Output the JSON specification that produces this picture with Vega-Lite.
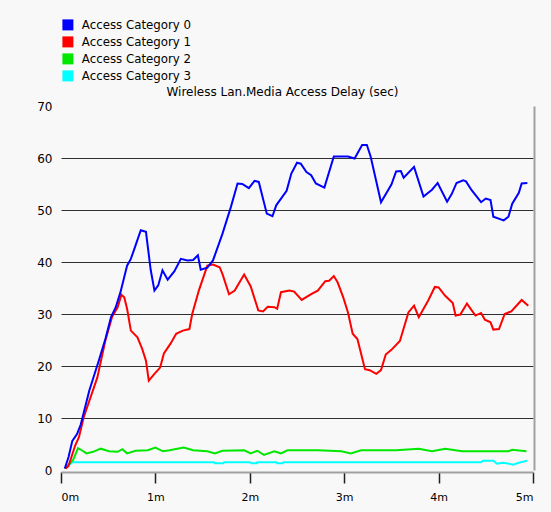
{
  "$schema": "https://vega.github.io/schema/vega-lite/v6.json",
  "width": 472,
  "height": 364,
  "autosize": {"type": "none"},
  "padding": {"left": 61, "top": 106, "right": 18, "bottom": 42},
  "background": "#f8f8f8",
  "config": {"view": {"stroke": null}, "font": "DejaVu Sans"},
  "data": {"values": [
    {"series": "Access Category 3", "time": 0.04, "delay": 0.3},
    {"series": "Access Category 3", "time": 0.12, "delay": 1.5},
    {"series": "Access Category 3", "time": 1.62, "delay": 1.5},
    {"series": "Access Category 3", "time": 1.63, "delay": 1.3},
    {"series": "Access Category 3", "time": 1.72, "delay": 1.3},
    {"series": "Access Category 3", "time": 1.73, "delay": 1.5},
    {"series": "Access Category 3", "time": 2.0, "delay": 1.5},
    {"series": "Access Category 3", "time": 2.02, "delay": 1.3},
    {"series": "Access Category 3", "time": 2.07, "delay": 1.3},
    {"series": "Access Category 3", "time": 2.08, "delay": 1.5},
    {"series": "Access Category 3", "time": 2.28, "delay": 1.5},
    {"series": "Access Category 3", "time": 2.29, "delay": 1.3},
    {"series": "Access Category 3", "time": 2.35, "delay": 1.3},
    {"series": "Access Category 3", "time": 2.36, "delay": 1.5},
    {"series": "Access Category 3", "time": 4.45, "delay": 1.5},
    {"series": "Access Category 3", "time": 4.47, "delay": 1.8},
    {"series": "Access Category 3", "time": 4.58, "delay": 1.8},
    {"series": "Access Category 3", "time": 4.62, "delay": 1.2},
    {"series": "Access Category 3", "time": 4.68, "delay": 1.4},
    {"series": "Access Category 3", "time": 4.72, "delay": 1.3},
    {"series": "Access Category 3", "time": 4.79, "delay": 1.0},
    {"series": "Access Category 3", "time": 4.85, "delay": 1.4},
    {"series": "Access Category 3", "time": 4.94, "delay": 1.8},

    {"series": "Access Category 2", "time": 0.04, "delay": 0.3},
    {"series": "Access Category 2", "time": 0.13, "delay": 2.0},
    {"series": "Access Category 2", "time": 0.18, "delay": 4.2},
    {"series": "Access Category 2", "time": 0.22, "delay": 3.8},
    {"series": "Access Category 2", "time": 0.27, "delay": 3.2},
    {"series": "Access Category 2", "time": 0.34, "delay": 3.5},
    {"series": "Access Category 2", "time": 0.42, "delay": 4.1},
    {"series": "Access Category 2", "time": 0.51, "delay": 3.6},
    {"series": "Access Category 2", "time": 0.6, "delay": 3.5},
    {"series": "Access Category 2", "time": 0.65, "delay": 4.0},
    {"series": "Access Category 2", "time": 0.7, "delay": 3.2},
    {"series": "Access Category 2", "time": 0.79, "delay": 3.7},
    {"series": "Access Category 2", "time": 0.92, "delay": 3.8},
    {"series": "Access Category 2", "time": 1.0, "delay": 4.3},
    {"series": "Access Category 2", "time": 1.08, "delay": 3.6},
    {"series": "Access Category 2", "time": 1.15, "delay": 3.8},
    {"series": "Access Category 2", "time": 1.3, "delay": 4.3},
    {"series": "Access Category 2", "time": 1.4, "delay": 3.8},
    {"series": "Access Category 2", "time": 1.55, "delay": 3.6},
    {"series": "Access Category 2", "time": 1.63, "delay": 3.2},
    {"series": "Access Category 2", "time": 1.71, "delay": 3.7},
    {"series": "Access Category 2", "time": 1.94, "delay": 3.8},
    {"series": "Access Category 2", "time": 2.01, "delay": 3.2},
    {"series": "Access Category 2", "time": 2.08, "delay": 3.7},
    {"series": "Access Category 2", "time": 2.15, "delay": 2.9},
    {"series": "Access Category 2", "time": 2.26, "delay": 3.6},
    {"series": "Access Category 2", "time": 2.33, "delay": 3.2},
    {"series": "Access Category 2", "time": 2.4, "delay": 3.8},
    {"series": "Access Category 2", "time": 2.72, "delay": 3.8},
    {"series": "Access Category 2", "time": 2.97, "delay": 3.6},
    {"series": "Access Category 2", "time": 3.07, "delay": 3.2},
    {"series": "Access Category 2", "time": 3.18, "delay": 3.8},
    {"series": "Access Category 2", "time": 3.55, "delay": 3.8},
    {"series": "Access Category 2", "time": 3.79, "delay": 4.1},
    {"series": "Access Category 2", "time": 3.93, "delay": 3.6},
    {"series": "Access Category 2", "time": 4.07, "delay": 4.1},
    {"series": "Access Category 2", "time": 4.25, "delay": 3.6},
    {"series": "Access Category 2", "time": 4.74, "delay": 3.6},
    {"series": "Access Category 2", "time": 4.78, "delay": 3.9},
    {"series": "Access Category 2", "time": 4.93, "delay": 3.6},

    {"series": "Access Category 1", "time": 0.05, "delay": 0.3},
    {"series": "Access Category 1", "time": 0.08, "delay": 0.8},
    {"series": "Access Category 1", "time": 0.15, "delay": 4.7},
    {"series": "Access Category 1", "time": 0.19, "delay": 6.3},
    {"series": "Access Category 1", "time": 0.24, "delay": 10.1},
    {"series": "Access Category 1", "time": 0.385, "delay": 17.8},
    {"series": "Access Category 1", "time": 0.47, "delay": 24.9},
    {"series": "Access Category 1", "time": 0.54, "delay": 29.4},
    {"series": "Access Category 1", "time": 0.6, "delay": 31.3},
    {"series": "Access Category 1", "time": 0.64, "delay": 33.7},
    {"series": "Access Category 1", "time": 0.67, "delay": 33.2},
    {"series": "Access Category 1", "time": 0.7, "delay": 31.0},
    {"series": "Access Category 1", "time": 0.74, "delay": 26.8},
    {"series": "Access Category 1", "time": 0.81, "delay": 25.5},
    {"series": "Access Category 1", "time": 0.86, "delay": 23.3},
    {"series": "Access Category 1", "time": 0.9, "delay": 21.0},
    {"series": "Access Category 1", "time": 0.93, "delay": 17.2},
    {"series": "Access Category 1", "time": 0.99, "delay": 18.5},
    {"series": "Access Category 1", "time": 1.05, "delay": 19.7},
    {"series": "Access Category 1", "time": 1.09, "delay": 22.4},
    {"series": "Access Category 1", "time": 1.16, "delay": 24.3},
    {"series": "Access Category 1", "time": 1.22, "delay": 26.2},
    {"series": "Access Category 1", "time": 1.29, "delay": 26.8},
    {"series": "Access Category 1", "time": 1.36, "delay": 27.1},
    {"series": "Access Category 1", "time": 1.39, "delay": 30.0},
    {"series": "Access Category 1", "time": 1.46, "delay": 34.5},
    {"series": "Access Category 1", "time": 1.55, "delay": 39.3},
    {"series": "Access Category 1", "time": 1.61, "delay": 39.5},
    {"series": "Access Category 1", "time": 1.68, "delay": 39.0},
    {"series": "Access Category 1", "time": 1.71, "delay": 37.7},
    {"series": "Access Category 1", "time": 1.78, "delay": 33.8},
    {"series": "Access Category 1", "time": 1.84, "delay": 34.5},
    {"series": "Access Category 1", "time": 1.94, "delay": 37.6},
    {"series": "Access Category 1", "time": 2.01, "delay": 35.3},
    {"series": "Access Category 1", "time": 2.09, "delay": 30.7},
    {"series": "Access Category 1", "time": 2.14, "delay": 30.5},
    {"series": "Access Category 1", "time": 2.19, "delay": 31.4},
    {"series": "Access Category 1", "time": 2.26, "delay": 31.3},
    {"series": "Access Category 1", "time": 2.29, "delay": 31.0},
    {"series": "Access Category 1", "time": 2.33, "delay": 34.2},
    {"series": "Access Category 1", "time": 2.42, "delay": 34.5},
    {"series": "Access Category 1", "time": 2.47, "delay": 34.3},
    {"series": "Access Category 1", "time": 2.55, "delay": 32.7},
    {"series": "Access Category 1", "time": 2.65, "delay": 33.8},
    {"series": "Access Category 1", "time": 2.72, "delay": 34.5},
    {"series": "Access Category 1", "time": 2.8, "delay": 36.3},
    {"series": "Access Category 1", "time": 2.84, "delay": 36.4},
    {"series": "Access Category 1", "time": 2.89, "delay": 37.3},
    {"series": "Access Category 1", "time": 2.93, "delay": 36.1},
    {"series": "Access Category 1", "time": 2.99, "delay": 33.2},
    {"series": "Access Category 1", "time": 3.04, "delay": 30.3},
    {"series": "Access Category 1", "time": 3.09, "delay": 26.2},
    {"series": "Access Category 1", "time": 3.14, "delay": 25.2},
    {"series": "Access Category 1", "time": 3.22, "delay": 19.4},
    {"series": "Access Category 1", "time": 3.27, "delay": 19.2},
    {"series": "Access Category 1", "time": 3.34, "delay": 18.5},
    {"series": "Access Category 1", "time": 3.39, "delay": 19.2},
    {"series": "Access Category 1", "time": 3.44, "delay": 22.2},
    {"series": "Access Category 1", "time": 3.5, "delay": 23.1},
    {"series": "Access Category 1", "time": 3.59, "delay": 24.8},
    {"series": "Access Category 1", "time": 3.68, "delay": 30.3},
    {"series": "Access Category 1", "time": 3.74, "delay": 31.6},
    {"series": "Access Category 1", "time": 3.79, "delay": 29.4},
    {"series": "Access Category 1", "time": 3.89, "delay": 32.6},
    {"series": "Access Category 1", "time": 3.96, "delay": 35.2},
    {"series": "Access Category 1", "time": 4.0, "delay": 35.1},
    {"series": "Access Category 1", "time": 4.07, "delay": 33.5},
    {"series": "Access Category 1", "time": 4.15, "delay": 32.1},
    {"series": "Access Category 1", "time": 4.18, "delay": 29.7},
    {"series": "Access Category 1", "time": 4.23, "delay": 29.9},
    {"series": "Access Category 1", "time": 4.3, "delay": 32.0},
    {"series": "Access Category 1", "time": 4.39, "delay": 29.7},
    {"series": "Access Category 1", "time": 4.45, "delay": 30.2},
    {"series": "Access Category 1", "time": 4.49, "delay": 28.9},
    {"series": "Access Category 1", "time": 4.55, "delay": 28.4},
    {"series": "Access Category 1", "time": 4.58, "delay": 27.0},
    {"series": "Access Category 1", "time": 4.64, "delay": 27.1},
    {"series": "Access Category 1", "time": 4.7, "delay": 30.0},
    {"series": "Access Category 1", "time": 4.77, "delay": 30.5},
    {"series": "Access Category 1", "time": 4.88, "delay": 32.7},
    {"series": "Access Category 1", "time": 4.95, "delay": 31.6},

    {"series": "Access Category 0", "time": 0.04, "delay": 0.3},
    {"series": "Access Category 0", "time": 0.08, "delay": 2.5},
    {"series": "Access Category 0", "time": 0.12, "delay": 5.6},
    {"series": "Access Category 0", "time": 0.17, "delay": 6.9},
    {"series": "Access Category 0", "time": 0.21, "delay": 8.8},
    {"series": "Access Category 0", "time": 0.3, "delay": 15.3},
    {"series": "Access Category 0", "time": 0.4, "delay": 21.0},
    {"series": "Access Category 0", "time": 0.47, "delay": 25.2},
    {"series": "Access Category 0", "time": 0.53, "delay": 29.4},
    {"series": "Access Category 0", "time": 0.58, "delay": 31.3},
    {"series": "Access Category 0", "time": 0.63, "delay": 34.2},
    {"series": "Access Category 0", "time": 0.67, "delay": 37.1},
    {"series": "Access Category 0", "time": 0.7, "delay": 39.3},
    {"series": "Access Category 0", "time": 0.74, "delay": 40.6},
    {"series": "Access Category 0", "time": 0.79, "delay": 43.2},
    {"series": "Access Category 0", "time": 0.845, "delay": 46.1},
    {"series": "Access Category 0", "time": 0.9, "delay": 45.8},
    {"series": "Access Category 0", "time": 0.95, "delay": 38.5},
    {"series": "Access Category 0", "time": 0.99, "delay": 34.5},
    {"series": "Access Category 0", "time": 1.03, "delay": 35.5},
    {"series": "Access Category 0", "time": 1.075, "delay": 38.4},
    {"series": "Access Category 0", "time": 1.13, "delay": 36.6},
    {"series": "Access Category 0", "time": 1.2, "delay": 38.2},
    {"series": "Access Category 0", "time": 1.27, "delay": 40.6},
    {"series": "Access Category 0", "time": 1.34, "delay": 40.3},
    {"series": "Access Category 0", "time": 1.4, "delay": 40.4},
    {"series": "Access Category 0", "time": 1.45, "delay": 41.3},
    {"series": "Access Category 0", "time": 1.48, "delay": 38.5},
    {"series": "Access Category 0", "time": 1.55, "delay": 38.9},
    {"series": "Access Category 0", "time": 1.61, "delay": 40.3},
    {"series": "Access Category 0", "time": 1.71, "delay": 45.4},
    {"series": "Access Category 0", "time": 1.8, "delay": 50.6},
    {"series": "Access Category 0", "time": 1.87, "delay": 55.1},
    {"series": "Access Category 0", "time": 1.92, "delay": 55.0},
    {"series": "Access Category 0", "time": 1.99, "delay": 54.2},
    {"series": "Access Category 0", "time": 2.05, "delay": 55.6},
    {"series": "Access Category 0", "time": 2.095, "delay": 55.4},
    {"series": "Access Category 0", "time": 2.18, "delay": 49.3},
    {"series": "Access Category 0", "time": 2.24, "delay": 48.8},
    {"series": "Access Category 0", "time": 2.28, "delay": 50.9},
    {"series": "Access Category 0", "time": 2.39, "delay": 53.7},
    {"series": "Access Category 0", "time": 2.44, "delay": 57.0},
    {"series": "Access Category 0", "time": 2.5, "delay": 59.1},
    {"series": "Access Category 0", "time": 2.54, "delay": 58.9},
    {"series": "Access Category 0", "time": 2.6, "delay": 57.3},
    {"series": "Access Category 0", "time": 2.65, "delay": 56.7},
    {"series": "Access Category 0", "time": 2.7, "delay": 55.1},
    {"series": "Access Category 0", "time": 2.79, "delay": 54.3},
    {"series": "Access Category 0", "time": 2.89, "delay": 60.3},
    {"series": "Access Category 0", "time": 3.04, "delay": 60.3},
    {"series": "Access Category 0", "time": 3.11, "delay": 59.9},
    {"series": "Access Category 0", "time": 3.19, "delay": 62.5},
    {"series": "Access Category 0", "time": 3.24, "delay": 62.5},
    {"series": "Access Category 0", "time": 3.28, "delay": 60.3},
    {"series": "Access Category 0", "time": 3.39, "delay": 51.5},
    {"series": "Access Category 0", "time": 3.5, "delay": 54.9},
    {"series": "Access Category 0", "time": 3.55, "delay": 57.4},
    {"series": "Access Category 0", "time": 3.6, "delay": 57.5},
    {"series": "Access Category 0", "time": 3.63, "delay": 56.2},
    {"series": "Access Category 0", "time": 3.74, "delay": 58.3},
    {"series": "Access Category 0", "time": 3.84, "delay": 52.6},
    {"series": "Access Category 0", "time": 3.93, "delay": 53.9},
    {"series": "Access Category 0", "time": 3.99, "delay": 55.2},
    {"series": "Access Category 0", "time": 4.09, "delay": 51.6},
    {"series": "Access Category 0", "time": 4.14, "delay": 53.1},
    {"series": "Access Category 0", "time": 4.19, "delay": 55.2},
    {"series": "Access Category 0", "time": 4.26, "delay": 55.7},
    {"series": "Access Category 0", "time": 4.29, "delay": 55.5},
    {"series": "Access Category 0", "time": 4.35, "delay": 53.8},
    {"series": "Access Category 0", "time": 4.45, "delay": 51.5},
    {"series": "Access Category 0", "time": 4.5, "delay": 52.2},
    {"series": "Access Category 0", "time": 4.55, "delay": 51.9},
    {"series": "Access Category 0", "time": 4.58, "delay": 48.7},
    {"series": "Access Category 0", "time": 4.69, "delay": 48.0},
    {"series": "Access Category 0", "time": 4.74, "delay": 48.7},
    {"series": "Access Category 0", "time": 4.78, "delay": 51.2},
    {"series": "Access Category 0", "time": 4.85, "delay": 53.3},
    {"series": "Access Category 0", "time": 4.88, "delay": 55.1},
    {"series": "Access Category 0", "time": 4.94, "delay": 55.2}
  ]},
  "layer": [
    {
      "mark": {"type": "line", "strokeWidth": 2, "clip": false},
      "encoding": {
        "x": {"field": "time", "type": "quantitative",
          "scale": {"domain": [0, 5], "nice": false, "zero": false},
          "axis": {"values": [0, 1, 2, 3, 4, 5], "labelExpr": "datum.value + 'm'", "grid": false, "title": null,
            "domainColor": "#a0a0a0", "domainWidth": 2, "offset": 2,
            "tickColor": "#202020", "tickSize": 11, "tickWidth": 1.5,
            "labelFontSize": 11, "labelColor": "#000000", "labelPadding": 8, "labelFont": "DejaVu Sans"}},
        "y": {"field": "delay", "type": "quantitative",
          "scale": {"domain": [0, 70], "nice": false},
          "axis": {"values": [0, 10, 20, 30, 40, 50, 60, 70], "title": null, "domain": false, "ticks": false,
            "grid": true, "gridColor": "#303030", "gridWidth": 1,
            "gridOpacity": {"condition": {"test": "datum.value > 0 && datum.value < 70", "value": 1}, "value": 0},
            "labelPadding": 9, "labelFontSize": 12, "labelColor": "#000000", "labelFont": "DejaVu Sans"}},
        "color": {"field": "series", "type": "nominal",
          "scale": {"domain": ["Access Category 0", "Access Category 1", "Access Category 2", "Access Category 3"],
                    "range": ["#0000ff", "#ff0000", "#00e800", "#00ffff"]},
          "legend": {"orient": "none", "legendX": 1, "legendY": -87, "title": null,
            "symbolType": "square", "symbolSize": 121, "symbolStrokeWidth": 0,
            "labelFontSize": 11.8, "labelOffset": 8, "rowPadding": 4, "labelColor": "#000000", "labelFont": "DejaVu Sans",
            "encode": {"symbols": {"update": {"fill": {"scale": "color", "field": "value"}, "opacity": {"value": 1}}}}}}
      }
    },
    {
      "mark": {"type": "line", "opacity": 0},
      "encoding": {
        "x": {"field": "time", "type": "quantitative",
          "axis": {"orient": "top", "labels": false, "ticks": false, "grid": false, "domain": false,
            "title": "Wireless Lan.Media Access Delay (sec)", "titleFontSize": 12, "titleFontWeight": "normal",
            "titleFont": "DejaVu Sans", "titleColor": "#000000", "titlePadding": 8, "titleX": 221, "titleAlign": "center"}},
        "y": {"field": "delay", "type": "quantitative",
          "axis": {"orient": "right", "labels": false, "ticks": false, "grid": false, "title": null,
            "domainColor": "#a0a0a0", "domainWidth": 2, "offset": 1}}
      }
    }
  ],
  "resolve": {"axis": {"y": "independent", "x": "independent"}}
}
